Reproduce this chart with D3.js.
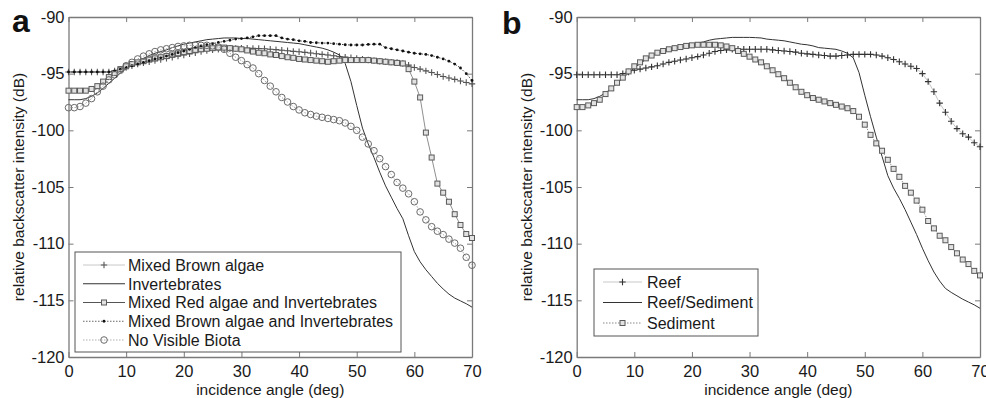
<!DOCTYPE html>
<html>
<head>
<meta charset="utf-8">
<script src="https://cdn.jsdelivr.net/npm/d3@7/dist/d3.min.js"></script>
<style>
  html, body { margin: 0; padding: 0; background: #fff; }
  svg { display: block; font-family: "Liberation Sans", Arial, sans-serif; }
</style>
</head>
<body>
<div id="chart"></div>
<script>
// incidence angles (deg), one sample per degree
var angles = [0,1,2,3,4,5,6,7,8,9,10,11,12,13,14,15,16,17,18,19,20,21,22,23,24,25,26,27,28,29,30,
  31,32,33,34,35,36,37,38,39,40,41,42,43,44,45,46,47,48,49,50,51,52,53,54,55,56,57,58,59,60,
  61,62,63,64,65,66,67,68,69,70];

var xTicks = [0, 10, 20, 30, 40, 50, 60, 70];
var yTicks = [-120, -115, -110, -105, -100, -95, -90];

// panel a
var mixedBrown = [-94.85,-94.85,-94.85,-94.85,-94.85,-94.85,-94.85,-94.85,-94.75,-94.6,
  -94.45,-94.3,-94.15,-94.05,-93.95,-93.85,-93.75,-93.65,-93.55,-93.45,
  -93.35,-93.25,-93.15,-93.05,-92.95,-92.9,-92.85,-92.8,-92.78,-92.77,
  -92.75,-92.76,-92.77,-92.78,-92.8,-92.85,-92.88,-92.93,-92.98,-93.03,
  -93.07,-93.12,-93.18,-93.24,-93.3,-93.35,-93.42,-93.48,-93.54,-93.6,
  -93.65,-93.72,-93.8,-93.85,-93.9,-93.95,-93.98,-94.0,-94.1,-94.25,
  -94.45,-94.6,-94.75,-94.9,-95.08,-95.25,-95.38,-95.5,-95.65,-95.78,-95.9];

var invertebrates = [-97.3,-97.3,-97.3,-97.2,-97.0,-96.7,-96.3,-95.85,-95.4,-94.95,
  -94.55,-94.2,-93.9,-93.65,-93.4,-93.2,-93.05,-92.9,-92.7,-92.55,
  -92.4,-92.3,-92.2,-92.1,-92.0,-91.95,-91.9,-91.85,-91.85,-91.85,
  -91.9,-91.9,-91.95,-92.0,-92.05,-92.1,-92.15,-92.2,-92.25,-92.3,
  -92.35,-92.45,-92.55,-92.65,-92.75,-92.9,-93.1,-93.35,-94.1,-95.7,
  -97.8,-99.8,-101.2,-102.4,-103.7,-104.9,-105.9,-106.9,-107.8,-109.3,
  -110.7,-111.6,-112.3,-112.9,-113.5,-114.0,-114.45,-114.8,-115.05,-115.3,-115.6];

var mixedRedInv = [-96.5,-96.5,-96.5,-96.5,-96.35,-96.1,-95.7,-95.3,-94.95,-94.6,
  -94.35,-94.15,-94.0,-93.9,-93.75,-93.65,-93.55,-93.45,-93.3,-93.2,
  -93.1,-93.0,-92.9,-92.85,-92.8,-92.75,-92.7,-92.7,-92.75,-92.8,
  -92.85,-92.95,-93.05,-93.15,-93.2,-93.3,-93.35,-93.45,-93.55,-93.6,
  -93.7,-93.75,-93.8,-93.85,-93.9,-93.95,-93.9,-93.85,-93.8,-93.8,
  -93.8,-93.8,-93.8,-93.85,-93.9,-93.95,-94.0,-94.05,-94.1,-94.6,
  -95.7,-97.1,-100.2,-102.4,-104.7,-105.5,-106.3,-107.4,-108.35,-109.15,-109.5];

var mixedBrownInv = [-94.85,-94.85,-94.85,-94.85,-94.85,-94.85,-94.85,-94.85,-94.75,-94.6,
  -94.45,-94.3,-94.15,-94.0,-93.85,-93.7,-93.6,-93.45,-93.3,-93.15,
  -93.0,-92.85,-92.7,-92.55,-92.45,-92.35,-92.25,-92.15,-92.05,-91.95,
  -91.9,-91.85,-91.75,-91.65,-91.65,-91.65,-91.65,-91.85,-91.95,-92.0,
  -92.1,-92.15,-92.25,-92.27,-92.3,-92.3,-92.35,-92.4,-92.45,-92.47,
  -92.47,-92.47,-92.42,-92.4,-92.4,-92.7,-92.8,-92.9,-93.0,-93.1,
  -93.2,-93.25,-93.3,-93.4,-93.55,-93.7,-93.9,-94.15,-94.5,-95.0,-95.6];

var noBiota = [-98.0,-98.0,-97.9,-97.6,-97.2,-96.6,-96.1,-95.55,-95.1,-94.7,
  -94.3,-94.0,-93.7,-93.45,-93.25,-93.05,-92.9,-92.8,-92.7,-92.6,
  -92.55,-92.5,-92.5,-92.5,-92.5,-92.55,-92.65,-92.85,-93.2,-93.55,
  -93.85,-94.2,-94.5,-95.0,-95.6,-96.1,-96.6,-97.1,-97.5,-97.9,
  -98.2,-98.45,-98.6,-98.75,-98.85,-98.95,-99.05,-99.15,-99.35,-99.65,
  -100.0,-100.6,-101.2,-101.8,-102.5,-103.2,-103.9,-104.6,-105.1,-105.6,
  -106.3,-107.2,-107.9,-108.5,-108.9,-109.2,-109.6,-109.95,-110.4,-111.2,-111.9];

// panel b
var reef = [-95.1,-95.1,-95.1,-95.1,-95.1,-95.1,-95.1,-95.1,-95.0,-94.85,
  -94.7,-94.6,-94.5,-94.4,-94.3,-94.15,-94.0,-93.9,-93.8,-93.7,
  -93.6,-93.5,-93.35,-93.2,-93.05,-92.95,-92.9,-92.85,-92.85,-92.85,
  -92.85,-92.85,-92.85,-92.85,-92.9,-92.95,-93.0,-93.05,-93.1,-93.2,
  -93.25,-93.3,-93.35,-93.4,-93.45,-93.45,-93.4,-93.35,-93.3,-93.3,
  -93.3,-93.3,-93.35,-93.45,-93.6,-93.75,-93.95,-94.15,-94.35,-94.55,
  -95.0,-95.7,-96.6,-97.6,-98.4,-99.2,-99.85,-100.3,-100.6,-101.1,-101.45];

var reefSediment = [-97.3,-97.3,-97.3,-97.2,-97.0,-96.7,-96.3,-95.85,-95.4,-94.95,
  -94.5,-94.1,-93.75,-93.45,-93.2,-93.0,-92.9,-92.75,-92.65,-92.6,
  -92.45,-92.3,-92.2,-92.05,-91.95,-91.9,-91.85,-91.8,-91.8,-91.8,
  -91.8,-91.82,-91.85,-91.95,-92.0,-92.05,-92.1,-92.2,-92.3,-92.4,
  -92.45,-92.55,-92.7,-92.75,-92.8,-92.85,-93.0,-93.2,-93.6,-94.9,
  -96.9,-98.8,-100.6,-102.3,-104.0,-105.1,-106.0,-107.0,-108.1,-109.2,
  -110.4,-111.5,-112.5,-113.3,-113.95,-114.3,-114.6,-114.9,-115.15,-115.4,-115.7];

var sediment = [-97.95,-97.95,-97.8,-97.6,-97.3,-96.8,-96.3,-95.8,-95.35,-94.8,
  -94.35,-94.0,-93.65,-93.4,-93.15,-93.0,-92.85,-92.75,-92.65,-92.55,
  -92.5,-92.45,-92.45,-92.45,-92.45,-92.5,-92.6,-92.75,-93.0,-93.25,
  -93.5,-93.75,-94.0,-94.35,-94.7,-95.05,-95.4,-95.8,-96.2,-96.6,
  -96.9,-97.15,-97.3,-97.45,-97.6,-97.75,-97.9,-98.05,-98.3,-98.8,
  -99.5,-100.4,-101.15,-101.8,-102.6,-103.4,-104.1,-104.9,-105.5,-106.2,
  -107.0,-108.0,-108.65,-109.3,-109.7,-110.3,-110.85,-111.4,-111.8,-112.4,-112.8];

var seriesA = [
  { name: 'Mixed Brown algae', values: mixedBrown, line: '#bdbdbd', dash: null, marker: 'plus', mcolor: '#555', legLine: '#c8c8c8' },
  { name: 'Invertebrates', values: invertebrates, line: '#333', dash: null, marker: null, legLine: '#333' },
  { name: 'Mixed Red algae and Invertebrates', values: mixedRedInv, line: '#909090', dash: null, marker: 'square', mcolor: '#5a5a5a', legLine: '#555' },
  { name: 'Mixed Brown algae and Invertebrates', values: mixedBrownInv, line: '#444', dash: '1.5,1.5', marker: 'dot', mcolor: '#111', legLine: '#666' },
  { name: 'No Visible Biota', values: noBiota, line: '#a8a8a8', dash: '1.5,1.5', marker: 'circle', mcolor: '#6a6a6a', legLine: '#b0b0b0' }
];
var seriesB = [
  { name: 'Reef', values: reef, line: '#c4c4c4', dash: null, marker: 'plus', mcolor: '#333', legLine: '#c8c8c8' },
  { name: 'Reef/Sediment', values: reefSediment, line: '#333', dash: null, marker: null, legLine: '#333' },
  { name: 'Sediment', values: sediment, line: '#909090', dash: '1.5,1.5', marker: 'square', mcolor: '#5a5a5a', legLine: '#888' }
];

var W = 986, H = 398;
var svg = d3.select('#chart').append('svg').attr('width', W).attr('height', H);

function drawMarker(sel, type, color) {
	if(type == 'plus') {
		sel.append('path').attr('d', 'M-3.2,0H3.2M0,-3.2V3.2')
			.attr('stroke', color).attr('stroke-width', 1.1).attr('fill', 'none');
	} else if(type == 'square') {
		sel.append('rect').attr('x', -2.5).attr('y', -2.5).attr('width', 5).attr('height', 5)
			.attr('stroke', color).attr('stroke-width', 1).attr('fill', '#e2e2e2');
	} else if(type == 'circle') {
		sel.append('circle').attr('r', 3.3)
			.attr('stroke', color).attr('stroke-width', 1).attr('fill', 'none');
	} else if(type == 'dot') {
		sel.append('circle').attr('r', 1.4).attr('fill', color);
	}
}

function drawPanel(opt) {
	var x = d3.scaleLinear().domain([0, 70]).range([opt.left, opt.right]);
	var y = d3.scaleLinear().domain([-120, -90]).range([opt.bottom, opt.top]);
	var g = svg.append('g');

	var fmt = function(d) { return String(d); };
	var axisColor = '#7a7a7a';

	var axes = [
		g.append('g').attr('transform', 'translate(0,' + opt.bottom + ')')
			.call(d3.axisBottom(x).tickValues(xTicks).tickSize(-5).tickSizeOuter(0).tickPadding(8).tickFormat(fmt)),
		g.append('g').attr('transform', 'translate(0,' + opt.top + ')')
			.call(d3.axisTop(x).tickValues(xTicks).tickSize(-5).tickSizeOuter(0).tickFormat('')),
		g.append('g').attr('transform', 'translate(' + opt.left + ',0)')
			.call(d3.axisLeft(y).tickValues(yTicks).tickSize(-5).tickSizeOuter(0).tickPadding(4).tickFormat(fmt)),
		g.append('g').attr('transform', 'translate(' + opt.right + ',0)')
			.call(d3.axisRight(y).tickValues(yTicks).tickSize(-5).tickSizeOuter(0).tickFormat(''))
	];
	axes.forEach(function(a) {
		a.attr('font-family', null).attr('font-size', null);
		a.select('.domain').attr('stroke', axisColor).attr('stroke-width', 1.3);
		a.selectAll('.tick line').attr('stroke', axisColor);
		a.selectAll('.tick text').attr('fill', '#1a1a1a').style('font-size', '16.5px');
	});

	// series
	var line = d3.line()
		.x(function(d, i) { return x(angles[i]); })
		.y(function(d) { return y(d); });
	opt.series.forEach(function(s) {
		g.append('path').datum(s.values)
			.attr('d', line)
			.attr('fill', 'none')
			.attr('stroke', s.line)
			.attr('stroke-width', 1)
			.attr('stroke-dasharray', s.dash);
		if(s.marker) {
			var m = g.append('g').selectAll('g')
				.data(s.values).enter().append('g')
				.attr('transform', function(d, i) { return 'translate(' + x(angles[i]) + ',' + y(d) + ')'; });
			drawMarker(m, s.marker, s.mcolor);
		}
	});

	// legend
	var lg = opt.legend;
	g.append('rect')
		.attr('x', lg.x).attr('y', lg.y).attr('width', lg.w).attr('height', lg.h)
		.attr('fill', '#fff').attr('stroke', '#555').attr('stroke-width', 1);
	opt.series.forEach(function(s, i) {
		var cy = lg.first + i * lg.step;
		var item = g.append('g');
		item.append('line')
			.attr('x1', lg.lineX1).attr('x2', lg.lineX2).attr('y1', cy).attr('y2', cy)
			.attr('stroke', s.legLine).attr('stroke-width', 1)
			.attr('stroke-dasharray', s.dash);
		if(s.marker) {
			var mk = item.append('g').attr('transform', 'translate(' + (lg.lineX1 + lg.lineX2) / 2 + ',' + cy + ')');
			drawMarker(mk, s.marker, s.mcolor);
		}
		item.append('text')
			.attr('x', lg.textX).attr('y', cy).attr('dy', '0.36em')
			.attr('fill', '#1a1a1a').style('font-size', '16px')
			.text(s.name);
	});

	// axis titles
	g.append('text')
		.attr('x', (opt.left + opt.right) / 2).attr('y', 394.5)
		.attr('text-anchor', 'middle').attr('fill', '#1a1a1a').style('font-size', '15.5px')
		.text('incidence angle (deg)');
	g.append('text')
		.attr('transform', 'translate(' + opt.ylabX + ',' + (opt.top + opt.bottom) / 2 + ') rotate(-90)')
		.attr('text-anchor', 'middle').attr('fill', '#1a1a1a').style('font-size', '15.5px')
		.text('relative backscatter intensity (dB)');

	// panel letter
	g.append('text')
		.attr('x', opt.letterX).attr('y', opt.letterY)
		.attr('fill', '#111').style('font-size', '32px').style('font-weight', 'bold')
		.text(opt.letter);
}

drawPanel({
	left: 68.5, right: 472, top: 17, bottom: 357,
	series: seriesA, letter: 'a', letterX: 12, letterY: 32, ylabX: 24,
	legend: { x: 75, y: 252, w: 326, h: 100, first: 265, step: 18.75, lineX1: 83, lineX2: 125, textX: 128 }
});
drawPanel({
	left: 576.7, right: 980, top: 17, bottom: 357,
	series: seriesB, letter: 'b', letterX: 502, letterY: 34, ylabX: 532,
	legend: { x: 594, y: 269, w: 164, h: 67, first: 282, step: 20.5, lineX1: 603, lineX2: 642, textX: 647 }
});
</script>
</body>
</html>
